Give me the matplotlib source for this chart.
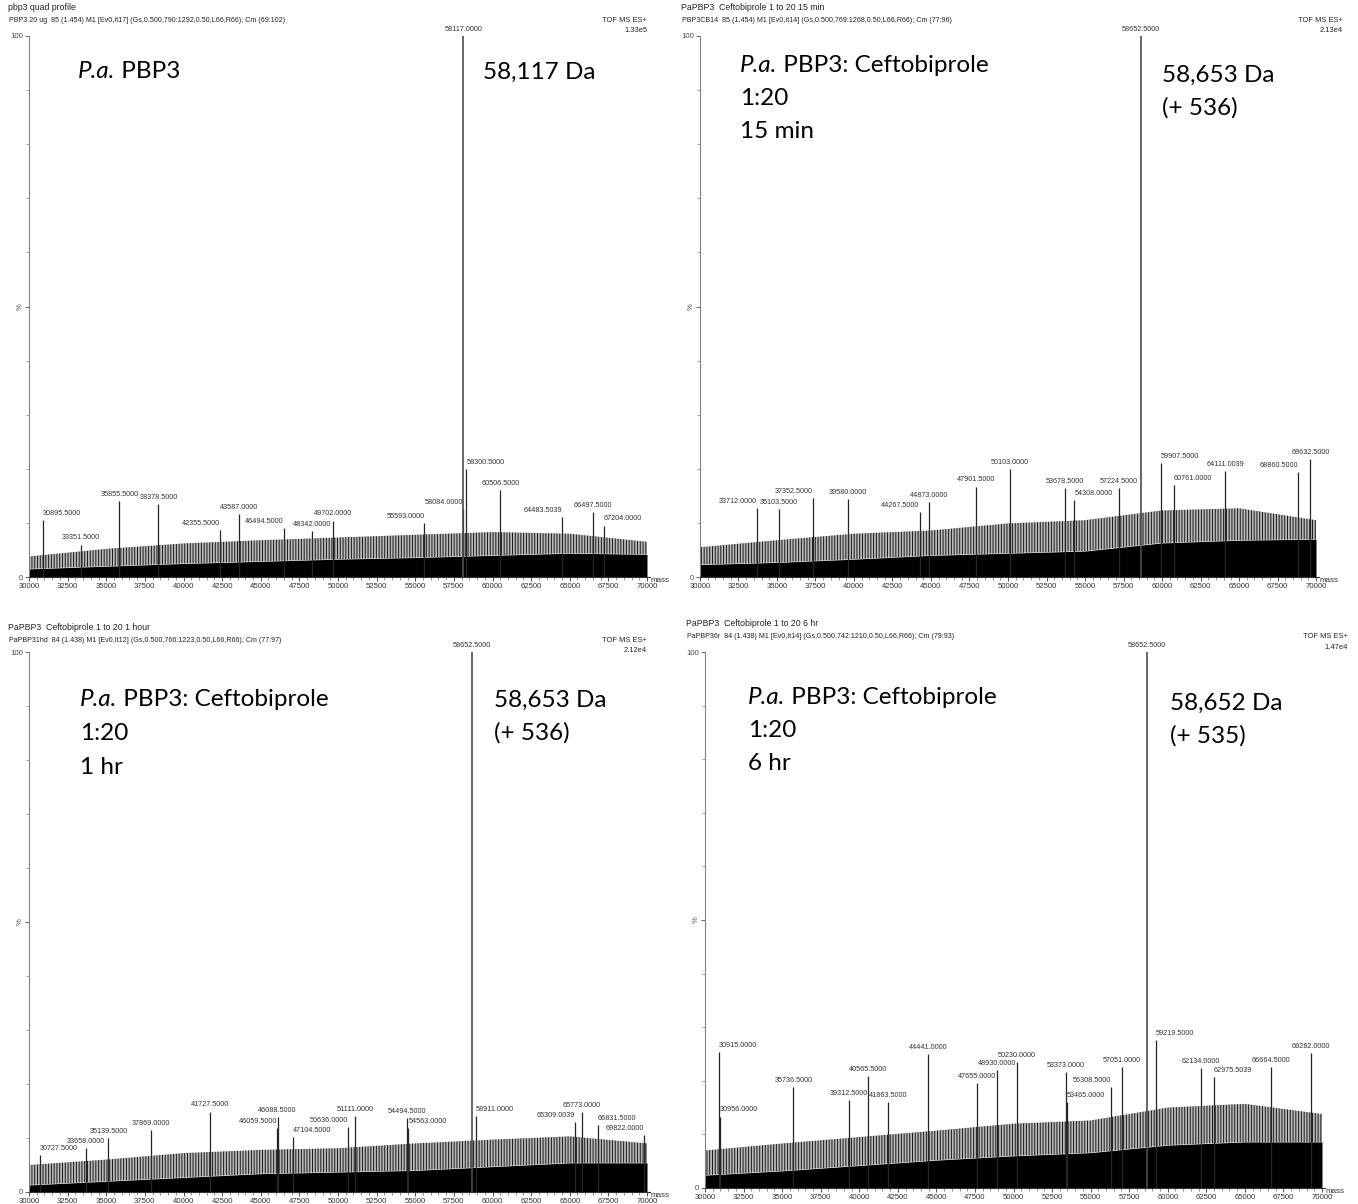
import matplotlib
matplotlib.use("Agg")
import matplotlib.pyplot as plt
from matplotlib.ticker import MultipleLocator

plt.rcParams['hatch.linewidth'] = 0.7

W, H = 1358, 1204
fig = plt.figure(figsize=(W / 100, H / 100), dpi=100)

# shared mass grid for the noise envelope
noise_mass = [30000, 35000, 40000, 45000, 50000, 55000, 60000, 65000, 70000]

# ---- panel 1: apo PBP3
p1_title = "pbp3 quad profile"
p1_info = "PBP3 20 ug  85 (1.454) M1 [Ev0,It17] (Gs,0.500,790:1292,0.50,L66,R66); Cm (69:102)"
p1_scale = "1.33e5"
p1_base = 58117.0
p1_mass = [30895.5, 33351.5, 35855.5, 38378.5, 42355.5, 43587.0, 46494.5, 48342.0,
           49702.0, 55593.0, 58084.0, 58300.5, 60506.5, 64483.5039, 66497.5, 67204.0]
p1_int = [10.5, 6.0, 14.0, 13.5, 8.7, 11.6, 9.0, 8.5, 10.4, 10.0, 12.5, 20.0, 16.0, 11.0, 12.0, 9.5]
p1_noise_lo = [1.5, 2.0, 2.5, 2.9, 3.3, 3.6, 4.0, 4.4, 4.2]
p1_noise_hi = [3.8, 5.2, 6.2, 6.8, 7.3, 7.8, 8.3, 8.0, 6.5]
p1_italic = "P.a."
p1_text = [" PBP3"]
p1_mw = ["58,117 Da"]

# ---- panel 2: 15 min
p2_title = "PaPBP3  Ceftobiprole 1 to 20 15 min"
p2_info = "PBP3CB14  85 (1.454) M1 [Ev0,It14] (Gs,0.500,769:1268,0.50,L66,R66); Cm (77:96)"
p2_scale = "2.13e4"
p2_base = 58652.5
p2_mass = [33712.0, 35103.5, 37352.5, 39580.0, 44267.5, 44873.0, 47901.5, 50103.0,
           53678.5, 54308.0, 57224.5, 59907.5, 60761.0, 64111.0039, 68860.5, 69632.5]
p2_int = [12.8, 12.6, 14.6, 14.4, 12.0, 13.9, 16.7, 20.0, 16.4, 14.2, 16.4, 21.0, 17.0, 19.6, 19.4, 21.8]
p2_noise_lo = [2.3, 2.7, 3.3, 4.0, 4.4, 4.8, 6.3, 6.8, 7.0]
p2_noise_hi = [5.5, 6.8, 8.0, 8.6, 9.9, 10.5, 12.3, 12.7, 10.5]
p2_italic = "P.a."
p2_text = [" PBP3: Ceftobiprole", "1:20", "15 min"]
p2_mw = ["58,653 Da", "(+ 536)"]

# ---- panel 3: 1 hour
p3_title = "PaPBP3  Ceftobiprole 1 to 20 1 hour"
p3_info = "PaPBP31hd  84 (1.438) M1 [Ev0,It12] (Gs,0.500,766:1223,0.50,L66,R66); Cm (77:97)"
p3_scale = "2.12e4"
p3_base = 58652.5
p3_mass = [30727.5, 33658.0, 35139.5, 37869.0, 41727.5, 46059.5, 46088.5, 47104.5, 50636.0,
           51111.0, 54494.5, 54563.0, 58911.0, 65309.0039, 65773.0, 66831.5, 69822.0]
p3_int = [6.9, 8.1, 10.0, 11.5, 14.9, 11.8, 13.9, 10.2, 12.0, 14.0, 13.7, 11.8, 14.0, 13.0, 14.8, 12.4, 10.5]
p3_noise_lo = [1.3, 2.0, 2.7, 3.4, 3.7, 4.0, 4.7, 5.4, 5.4]
p3_noise_hi = [5.0, 6.0, 7.2, 7.8, 8.1, 9.0, 9.7, 10.3, 9.0]
p3_italic = "P.a."
p3_text = [" PBP3: Ceftobiprole", "1:20", "1 hr"]
p3_mw = ["58,653 Da", "(+ 536)"]

# ---- panel 4: 6 hours
p4_title = "PaPBP3  Ceftobiprole 1 to 20 6 hr"
p4_info = "PaPBP36r  84 (1.438) M1 [Ev0,It14] (Gs,0.500,742:1210,0.50,L66,R66); Cm (79:93)"
p4_scale = "1.47e4"
p4_base = 58652.5
p4_mass = [30915.0, 30956.0, 35736.5, 39312.5, 40565.5, 41863.5, 44441.0, 47655.0, 48930.0, 50230.0,
           53373.0, 53465.0, 56308.5, 57051.0, 59219.5, 62134.0, 62975.5039, 66664.5, 69282.0]
p4_int = [25.4, 13.3, 18.8, 16.4, 20.9, 16.0, 25.0, 19.6, 22.0, 23.5,
          21.6, 16.0, 18.8, 22.6, 27.6, 22.4, 20.7, 22.6, 25.2]
p4_noise_lo = [2.4, 3.2, 4.2, 5.2, 6.0, 6.6, 8.0, 8.6, 8.6]
p4_noise_hi = [7.0, 8.3, 9.5, 10.7, 12.0, 12.6, 15.0, 15.7, 13.8]
p4_italic = "P.a."
p4_text = [" PBP3: Ceftobiprole", "1:20", "6 hr"]
p4_mw = ["58,652 Da", "(+ 535)"]

# label alignment per peak (how MassLynx pushed the labels aside)
p1_align = ['left', 'center', 'center', 'center', 'right', 'center', 'right', 'center',
            'center', 'right', 'right', 'left', 'center', 'right', 'center', 'left']
p2_align = ['right', 'center', 'right', 'center', 'right', 'center', 'center', 'center',
            'center', 'left', 'center', 'left', 'left', 'center', 'right', 'center']
p3_align = ['left', 'center', 'center', 'center', 'center', 'right', 'center', 'left', 'right',
            'center', 'center', 'left', 'left', 'right', 'center', 'left', 'right']
p4_align = ['left', 'left', 'center', 'center', 'center', 'center', 'center', 'center', 'center', 'center',
            'center', 'left', 'right', 'center', 'left', 'center', 'left', 'center', 'center']

small = ['Liberation Sans', 'DejaVu Sans']
gray = '#333333'


def px(x, y):
    return x / W, 1 - y / H


def panel(box, title, info, scale, base, mass, inten, lo, hi, align,
          head_xy, right_x, text_xy, italic, text_lines, mw_xy, mw_lines):
    left, top, right, bottom = box
    # axes spans 30000..70200 horizontally, 0..100 vertically
    x_end = left + (right - left) * 40200 / 40000
    ax = fig.add_axes([left / W, 1 - bottom / H, (x_end - left) / W, (bottom - top) / H])
    ax.set_xlim(30000, 70200)
    ax.set_ylim(0, 100)
    ax.patch.set_alpha(0)

    # dense noise floor and the spiky part above it
    ax.fill_between(noise_mass, 0, lo, color='black', lw=0)
    ax.fill_between(noise_mass, lo, hi, facecolor='0.72', edgecolor='0.1', hatch='||||||', lw=0)
    ax.vlines(mass, 0, inten, color='0.15', lw=0.9)
    ax.vlines([base], 0, 100, color='0.3', lw=1.2)

    for m, h, a in zip(mass, inten, align):
        ax.text(m, h + 0.6, f"{m:.4f}", ha=a, va='bottom', fontsize=5.2,
                family=small, color=gray)
    ax.text(base, 100.6, f"{base:.4f}", ha='center', va='bottom', fontsize=5.2,
            family=small, color=gray)

    for s in ['top', 'right']:
        ax.spines[s].set_visible(False)
    ax.spines['left'].set_color('0.5')
    ax.spines['left'].set_linewidth(0.8)
    ax.spines['bottom'].set_color('0.2')
    ax.spines['bottom'].set_linewidth(0.8)

    ax.set_xticks([t for t in range(30000, 70001, 2500)])
    ax.xaxis.set_minor_locator(MultipleLocator(500))
    ax.tick_params(axis='x', which='major', length=3, width=0.6, labelsize=5.6, pad=1,
                   colors='0.2')
    ax.tick_params(axis='x', which='minor', length=1.8, width=0.5, colors='0.4')
    ax.set_yticks([0, 50, 100])
    ax.set_yticklabels(['0', '%', '100'])
    ax.yaxis.set_minor_locator(MultipleLocator(10))
    ax.tick_params(axis='y', which='major', length=3, width=0.6, labelsize=5.6, pad=1,
                   colors='0.3')
    ax.tick_params(axis='y', which='minor', length=2, width=0.5, colors='0.5')
    for lab in ax.get_yticklabels():
        lab.set_family(small)
        if lab.get_text() == '%':
            lab.set_rotation(90)
            lab.set_va('center')
    for lab in ax.get_xticklabels():
        lab.set_family(small)
    ax.text(70250, 0, "mass", ha='left', va='top', fontsize=5.8, family=small, color=gray)

    hx, hy = head_xy
    fig.text(*px(hx, hy), title, fontsize=6.3, family=small, color='#222222', va='center')
    fig.text(*px(hx + 1, hy + 12), info, fontsize=5.1, family=small, color='#222222', va='center')
    fig.text(*px(right_x, hy + 12), "TOF MS ES+", fontsize=5.4, family=small, color='#222222',
             va='center', ha='right')
    fig.text(*px(right_x, hy + 23), scale, fontsize=5.4, family=small, color='#222222',
             va='center', ha='right')

    # big annotation: italic species then the rest on the same baseline
    tx, ty = text_xy
    it = fig.text(*px(tx, ty), italic, fontsize=17.5, family='Lato', style='italic', va='center')
    ax.annotate(text_lines[0], xy=(1, 0), xycoords=it, fontsize=17.5, family='Lato',
                va='bottom', ha='left', annotation_clip=False)
    for i, t in enumerate(text_lines[1:], start=1):
        fig.text(*px(tx, ty + 33.5 * i), t, fontsize=17.5, family='Lato', va='center')
    mx, my = mw_xy
    for i, t in enumerate(mw_lines):
        fig.text(*px(mx, my + 33 * i), t, fontsize=17.5, family='Lato', va='center')


panel((29, 36, 647, 577), p1_title, p1_info, p1_scale, p1_base, p1_mass, p1_int,
      p1_noise_lo, p1_noise_hi, p1_align, (8, 8), 647, (78, 72), p1_italic, p1_text, (483, 72), p1_mw)
panel((700, 36, 1316, 577), p2_title, p2_info, p2_scale, p2_base, p2_mass, p2_int,
      p2_noise_lo, p2_noise_hi, p2_align, (681, 8), 1343, (740, 65), p2_italic, p2_text, (1162, 75), p2_mw)
panel((29, 652, 647, 1192), p3_title, p3_info, p3_scale, p3_base, p3_mass, p3_int,
      p3_noise_lo, p3_noise_hi, p3_align, (8, 628), 647, (80, 700), p3_italic, p3_text, (494, 700), p3_mw)
panel((705, 652, 1322, 1188), p4_title, p4_info, p4_scale, p4_base, p4_mass, p4_int,
      p4_noise_lo, p4_noise_hi, p4_align, (686, 624), 1348, (748, 697), p4_italic, p4_text, (1170, 703), p4_mw)

fig.savefig("out.png", dpi=100)
